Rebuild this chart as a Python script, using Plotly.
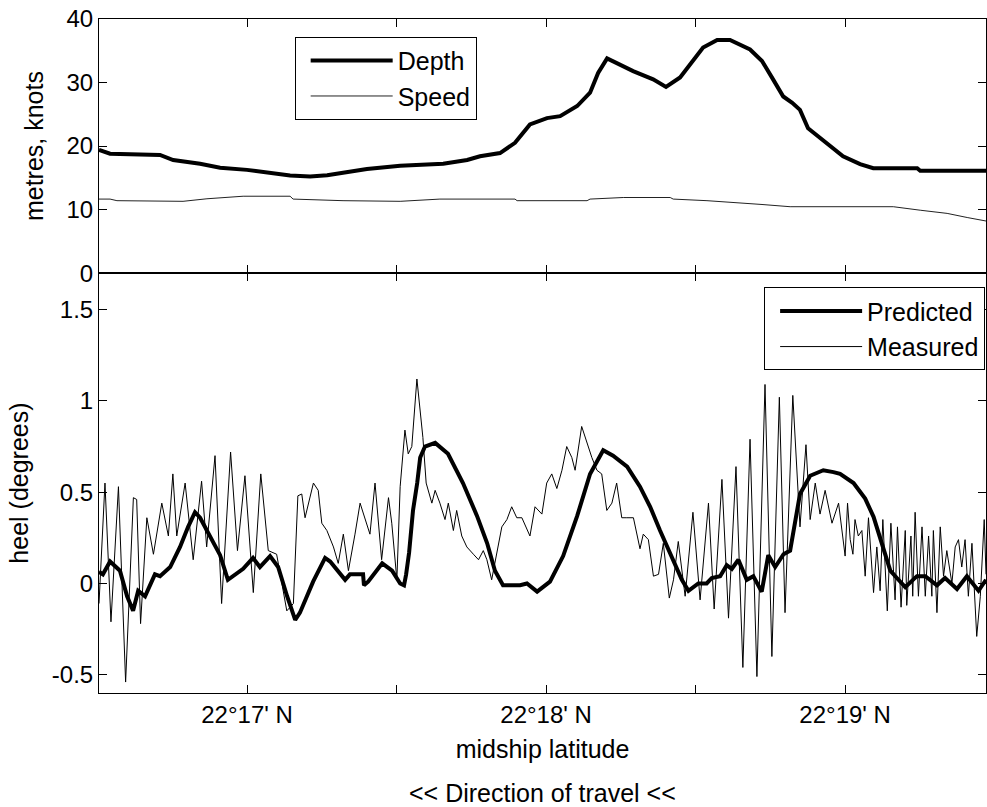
import plotly.graph_objects as go
from plotly.subplots import make_subplots

# ---- data (latitude in arc-minutes past 22°N) ----
depth_lat = [16.505, 16.542, 16.709, 16.753, 16.843, 16.910, 17.000, 17.067, 17.144, 17.211,
             17.268, 17.321, 17.401, 17.512, 17.656, 17.736, 17.779, 17.846, 17.896, 17.946,
             18.003, 18.047, 18.104, 18.147, 18.174, 18.204, 18.291, 18.358, 18.401, 18.448,
             18.525, 18.572, 18.615, 18.682, 18.722, 18.759, 18.793, 18.823, 18.849, 18.876,
             18.926, 18.993, 19.050, 19.094, 19.241, 19.251, 19.471]
depth_m = [19.4, 18.8, 18.6, 17.8, 17.2, 16.6, 16.25, 15.8, 15.35, 15.2,
           15.4, 15.8, 16.4, 16.9, 17.2, 17.8, 18.4, 18.9, 20.5, 23.4,
           24.4, 24.7, 26.3, 28.4, 31.5, 33.8, 31.8, 30.5, 29.3, 30.8,
           35.5, 36.7, 36.7, 35.2, 33.4, 30.5, 27.8, 26.8, 25.7, 22.8,
           21.0, 18.4, 17.15, 16.5, 16.5, 16.1, 16.1]

speed_lat = [16.505, 16.542, 16.565, 16.786, 16.866, 16.987, 17.144, 17.154, 17.321, 17.512,
             17.645, 17.779, 17.896, 17.903, 18.137, 18.147, 18.258, 18.415, 18.425, 18.538,
             18.649, 18.722, 18.816, 19.161, 19.251, 19.341, 19.408, 19.471]
speed_kn = [11.65, 11.65, 11.4, 11.3, 11.7, 12.1, 12.1, 11.65, 11.4, 11.3,
            11.65, 11.65, 11.65, 11.4, 11.4, 11.65, 11.9, 11.9, 11.65, 11.4,
            11.1, 10.8, 10.45, 10.45, 9.9, 9.4, 8.75, 8.2]

pred_lat = [16.505, 16.518, 16.542, 16.575, 16.599, 16.619, 16.636, 16.659, 16.692, 16.709,
            16.743, 16.776, 16.803, 16.826, 16.843, 16.876, 16.910, 16.936, 16.953, 16.987,
            17.020, 17.043, 17.077, 17.104, 17.134, 17.161, 17.177, 17.221, 17.261, 17.278,
            17.328, 17.344, 17.388, 17.391, 17.405, 17.418, 17.452, 17.485, 17.512, 17.525,
            17.532, 17.542, 17.555, 17.569, 17.579, 17.595, 17.629, 17.672, 17.722, 17.769,
            17.803, 17.829, 17.856, 17.913, 17.936, 17.970, 18.013, 18.057, 18.104, 18.147,
            18.191, 18.224, 18.271, 18.314, 18.348, 18.381, 18.426, 18.454, 18.476, 18.509,
            18.537, 18.554, 18.582, 18.604, 18.621, 18.643, 18.671, 18.693, 18.721, 18.743,
            18.766, 18.794, 18.816, 18.833, 18.849, 18.883, 18.927, 18.961, 18.983, 19.028,
            19.067, 19.095, 19.128, 19.151, 19.173, 19.201, 19.240, 19.268, 19.307, 19.334,
            19.374, 19.407, 19.446, 19.471]
pred_heel = [0.064, 0.05, 0.12, 0.07, -0.07, -0.15, -0.04, -0.07, 0.05, 0.04,
             0.09, 0.20, 0.31, 0.39, 0.36, 0.26, 0.155, 0.02, 0.04, 0.08,
             0.14, 0.09, 0.15, 0.09, -0.07, -0.20, -0.16, 0.01, 0.14, 0.12,
             0.02, 0.05, 0.05, -0.01, 0.01, 0.04, 0.11, 0.07, 0.0, -0.01,
             0.05, 0.17, 0.40, 0.55, 0.69, 0.75, 0.77, 0.71, 0.55, 0.37,
             0.22, 0.07, -0.01, -0.01, 0.0, -0.045, 0.01, 0.15, 0.37, 0.60,
             0.73, 0.70, 0.64, 0.53, 0.42, 0.29, 0.13, 0.02, -0.04, 0.0,
             0.0, 0.03, 0.04, 0.10, 0.08, 0.13, 0.02, 0.04, -0.045, 0.155,
             0.09, 0.16, 0.18, 0.35, 0.49, 0.59, 0.62, 0.61, 0.60, 0.55,
             0.465, 0.365, 0.20, 0.07, 0.03, -0.02, 0.04, 0.04, -0.01, 0.03,
             -0.03, 0.04, -0.04, 0.02]

meas_lat = [16.505, 16.525, 16.545, 16.570, 16.594, 16.620, 16.631, 16.644, 16.665, 16.687,
            16.715, 16.737, 16.752, 16.765, 16.793, 16.820, 16.848, 16.865, 16.893, 16.915,
            16.945, 16.968, 16.993, 17.021, 17.046, 17.071, 17.099, 17.133, 17.155, 17.170,
            17.183, 17.194, 17.222, 17.238, 17.250, 17.267, 17.289, 17.305, 17.322, 17.339,
            17.361, 17.378, 17.411, 17.428, 17.450, 17.473, 17.484, 17.501, 17.512, 17.528,
            17.539, 17.551, 17.568, 17.576, 17.588, 17.599, 17.618, 17.629, 17.645, 17.662,
            17.673, 17.690, 17.701, 17.718, 17.735, 17.757, 17.774, 17.790, 17.802, 17.818,
            17.835, 17.852, 17.869, 17.885, 17.902, 17.919, 17.946, 17.963, 17.986, 18.002,
            18.019, 18.036, 18.053, 18.069, 18.086, 18.097, 18.119, 18.136, 18.153, 18.170,
            18.186, 18.203, 18.220, 18.236, 18.253, 18.270, 18.292, 18.314, 18.325, 18.342,
            18.359, 18.376, 18.392, 18.412, 18.426, 18.442, 18.465, 18.491, 18.515, 18.543,
            18.562, 18.588, 18.610, 18.635, 18.658, 18.682, 18.705, 18.732, 18.755, 18.780,
            18.799, 18.825, 18.849, 18.869, 18.883, 18.900, 18.916, 18.933, 18.956, 18.978,
            18.989, 19.000, 19.008, 19.017, 19.026, 19.033, 19.044, 19.056, 19.067, 19.078,
            19.095, 19.106, 19.117, 19.126, 19.141, 19.153, 19.167, 19.175, 19.187, 19.201,
            19.206, 19.220, 19.226, 19.234, 19.245, 19.257, 19.268, 19.279, 19.290, 19.295,
            19.307, 19.318, 19.329, 19.340, 19.357, 19.368, 19.379, 19.390, 19.401, 19.412,
            19.424, 19.440, 19.452, 19.465, 19.471]
meas_heel = [-0.11, 0.55, -0.21, 0.53, -0.54, 0.47, 0.46, -0.22, 0.36, 0.16,
             0.44, 0.26, 0.60, 0.26, 0.55, 0.13, 0.56, 0.20, 0.70, -0.11,
             0.72, 0.18, 0.59, -0.05, 0.60, 0.18, 0.16, -0.15, -0.11, 0.48,
             0.49, 0.36, 0.55, 0.51, 0.33, 0.29, 0.20, 0.11, 0.27, 0.07,
             0.27, 0.44, 0.27, 0.55, 0.13, 0.47, 0.33, 0.02, 0.53, 0.84,
             0.71, 0.75, 1.12, 0.99, 0.80, 0.55, 0.44, 0.51, 0.44, 0.35,
             0.44, 0.29, 0.40, 0.26, 0.20, 0.16, 0.13, 0.18, 0.13, 0.02,
             0.16, 0.31, 0.35, 0.42, 0.36, 0.36, 0.26, 0.42, 0.38, 0.55,
             0.60, 0.52, 0.62, 0.75, 0.69, 0.62, 0.86, 0.77, 0.69, 0.62,
             0.60, 0.40, 0.44, 0.55, 0.36, 0.36, 0.36, 0.19, 0.27, 0.24,
             0.04, 0.05, 0.22, -0.08, 0.02, 0.23, -0.07, 0.39, -0.09, 0.44,
             -0.14, 0.57, -0.19, 0.64, -0.46, 0.79, -0.51, 1.09, -0.40, 1.02,
             -0.16, 1.03, 0.31, 0.76, 0.35, 0.55, 0.38, 0.51, 0.33, 0.44,
             0.30, 0.15, 0.44, 0.24, 0.16, 0.35, 0.26, 0.29, 0.04, 0.36,
             -0.05, 0.20, -0.04, 0.35, -0.15, 0.33, -0.09, 0.31, -0.13, 0.29,
             -0.12, 0.26, -0.07, 0.39, -0.07, 0.31, -0.07, 0.26, -0.07, 0.29,
             -0.16, 0.31, 0.04, 0.18, 0.0, 0.20, 0.24, 0.09, 0.24, -0.07,
             0.22, -0.29, -0.07, 0.35, 0.05]

x_tickvals = [17.0, 17.5, 18.0, 18.5, 19.0]
x_ticktext = ["22°17' N", "", "22°18' N", "", "22°19' N"]
heel_tickvals = [-0.5, 0, 0.5, 1, 1.5]
heel_ticktext = ["-0.5", "0", "0.5", "1", "1.5"]

FONT = "Liberation Sans, Arial, Helvetica, sans-serif"

fig = make_subplots(rows=2, cols=1, shared_xaxes=True, vertical_spacing=0,
                    row_heights=[0.377, 0.623])

fig.add_trace(go.Scatter(x=depth_lat, y=depth_m, mode="lines", name="Depth",
                         line=dict(color="black", width=4), legend="legend"), row=1, col=1)
fig.add_trace(go.Scatter(x=speed_lat, y=speed_kn, mode="lines", name="Speed",
                         line=dict(color="#222222", width=1), legend="legend"), row=1, col=1)
fig.add_trace(go.Scatter(x=pred_lat, y=pred_heel, mode="lines", name="Predicted",
                         line=dict(color="black", width=4), legend="legend2"), row=2, col=1)
fig.add_trace(go.Scatter(x=meas_lat, y=meas_heel, mode="lines", name="Measured",
                         line=dict(color="black", width=1), legend="legend2"), row=2, col=1)

axis_common = dict(showline=True, linecolor="black", linewidth=1, mirror="ticks",
                   ticks="inside", ticklen=8, tickcolor="black", tickwidth=1,
                   showgrid=False, zeroline=False,
                   tickfont=dict(family=FONT, size=24, color="black"))

fig.update_xaxes(range=[16.505, 19.471], tickvals=x_tickvals, ticktext=x_ticktext, **axis_common)
fig.update_xaxes(showticklabels=False, row=1, col=1)
fig.update_xaxes(title=dict(text="midship latitude", font=dict(family=FONT, size=25, color="black"),
                            standoff=13), row=2, col=1)

fig.update_yaxes(range=[0, 40], dtick=10, title=dict(text="metres, knots",
                 font=dict(family=FONT, size=25, color="black"), standoff=15),
                 row=1, col=1, **axis_common)
fig.update_yaxes(range=[-0.6, 1.7], tickvals=heel_tickvals, ticktext=heel_ticktext,
                 title=dict(text="heel (degrees)", font=dict(family=FONT, size=25, color="black"),
                            standoff=16),
                 row=2, col=1, **axis_common)

legend_style = dict(bgcolor="white", bordercolor="black", borderwidth=1,
                    font=dict(family=FONT, size=25, color="black"),
                    itemwidth=82, indentation=10, tracegroupgap=0)

fig.update_layout(
    width=987, height=807,
    margin=dict(l=99, r=1, t=19, b=114),
    paper_bgcolor="white", plot_bgcolor="white",
    font=dict(family=FONT, size=24, color="black"),
    showlegend=True,
    legend=dict(x=0.2206, y=0.9737, xanchor="left", yanchor="top", **legend_style),
    legend2=dict(x=0.999, y=0.6019, xanchor="right", yanchor="top", **legend_style),
    annotations=[dict(text="<< Direction of travel <<", xref="paper", yref="paper",
                      x=0.5, y=-0.148, xanchor="center", yanchor="middle", showarrow=False,
                      font=dict(family=FONT, size=25, color="black"))],
)

fig.write_html("out.html")
